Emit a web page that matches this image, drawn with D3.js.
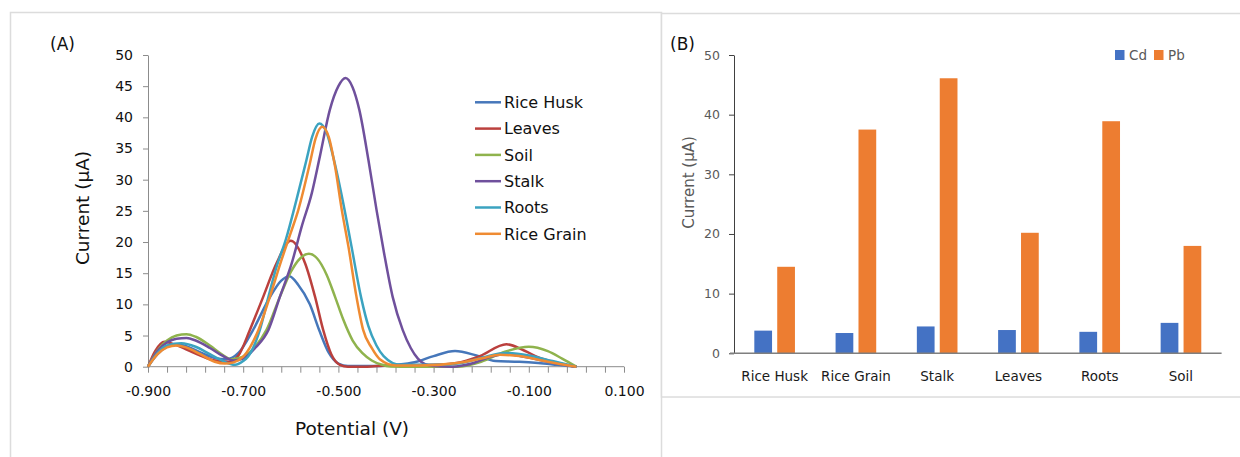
<!DOCTYPE html>
<html lang="en">
<head>
<meta charset="utf-8">
<title>Voltammograms and peak currents</title>
<script src="https://cdn.jsdelivr.net/npm/d3@7"></script>
<style>
    body { margin: 0; padding: 0; background: #fff; }
    svg text { font-family: "DejaVu Sans", sans-serif; }
    .axA path, .axA line { stroke: #8c8c8c; }
    .axA text { fill: #111; font-size: 14px; }
    .axB text { fill: #595959; font-size: 12.5px; }
</style>
</head>
<body>
<svg id="chart" width="1240" height="457"></svg>
<script>
// ---- panel A : voltammograms, [potential V, current uA]
var riceHusk = [[-0.9,0],[-0.88,2.0],[-0.86,3.2],[-0.84,3.6],[-0.82,3.3],[-0.79,2.3],[-0.76,1.4],[-0.735,1.2],[-0.71,2.2],
    [-0.68,5.8],[-0.645,11.0],[-0.62,13.8],[-0.603,14.5],[-0.585,13.2],[-0.56,10.0],[-0.54,5.8],[-0.52,2.2],[-0.50,0.5],
    [-0.48,0.1],[-0.42,0.1],[-0.38,0.3],[-0.34,0.7],[-0.30,1.7],[-0.255,2.5],[-0.21,1.8],[-0.17,0.9],[-0.12,0.8],
    [-0.08,0.6],[-0.04,0.3],[0,0]];
var leaves = [[-0.9,0],[-0.885,2.5],[-0.865,4.0],[-0.845,3.6],[-0.82,2.8],[-0.79,1.8],[-0.76,1.0],[-0.73,0.8],[-0.71,1.8],
    [-0.686,5.9],[-0.658,11.2],[-0.63,16.6],[-0.60,20.2],[-0.57,16.6],[-0.549,11.2],[-0.532,5.9],[-0.515,2.0],[-0.497,0.3],
    [-0.48,0],[-0.44,0],[-0.40,0.2],[-0.30,0.3],[-0.252,0.6],[-0.203,1.7],[-0.147,3.6],[-0.11,2.6],[-0.077,1.4],
    [-0.04,0.6],[0,0]];
var soil = [[-0.9,0],[-0.88,2.6],[-0.86,4.2],[-0.84,5.0],[-0.819,5.2],[-0.80,4.8],[-0.77,3.4],[-0.745,2.0],[-0.725,1.2],
    [-0.70,1.6],[-0.675,3.2],[-0.651,5.9],[-0.623,11.2],[-0.60,15.2],[-0.58,17.4],[-0.562,18.1],[-0.545,17.4],[-0.525,14.8],
    [-0.507,11.2],[-0.49,7.6],[-0.47,4.2],[-0.45,2.2],[-0.43,1.0],[-0.41,0.35],[-0.39,0.05],[-0.35,0],[-0.25,0],[-0.20,0.8],
    [-0.15,2.4],[-0.10,3.2],[-0.06,2.5],[-0.03,1.3],[0,0]];
var stalk = [[-0.9,0],[-0.88,2.5],[-0.86,3.9],[-0.84,4.5],[-0.819,4.6],[-0.80,4.2],[-0.77,3.0],[-0.745,1.8],[-0.72,1.0],
    [-0.70,1.3],[-0.675,3.0],[-0.647,5.9],[-0.623,11.2],[-0.598,16.6],[-0.577,22.5],[-0.556,27.8],[-0.539,33.7],
    [-0.518,41.2],[-0.50,45.0],[-0.485,46.3],[-0.47,44.8],[-0.456,41.2],[-0.437,33.2],[-0.42,25.2],[-0.404,18.2],
    [-0.386,11.2],[-0.365,5.9],[-0.348,3.0],[-0.333,1.3],[-0.318,0.4],[-0.30,0.1],[-0.26,0],[-0.22,0.5],[-0.18,1.6],
    [-0.15,2.0],[-0.11,1.6],[-0.06,0.8],[0,0]];
var roots = [[-0.9,0],[-0.88,2.2],[-0.86,3.4],[-0.83,3.75],[-0.80,3.2],[-0.77,2.0],[-0.745,1.0],[-0.717,0.3],[-0.70,0.9],
    [-0.69,1.6],[-0.665,5.9],[-0.647,11.2],[-0.63,16.0],[-0.61,20.5],[-0.588,26.8],[-0.567,33.2],[-0.555,36.9],[-0.54,39.0],
    [-0.525,37.6],[-0.511,33.7],[-0.49,26.3],[-0.473,19.5],[-0.452,11.0],[-0.437,6.5],[-0.42,3.4],[-0.405,1.7],
    [-0.37,0.3],[-0.30,0.3],[-0.25,0.5],[-0.20,1.4],[-0.15,2.2],[-0.10,1.8],[-0.05,0.9],[0,0]];
var riceGrain = [[-0.9,0],[-0.88,2.0],[-0.86,3.1],[-0.84,3.4],[-0.82,3.1],[-0.79,2.0],[-0.76,0.8],[-0.738,0.5],[-0.72,0.7],
    [-0.70,1.6],[-0.668,5.9],[-0.644,11.2],[-0.62,17.0],[-0.60,21.5],[-0.584,25.2],[-0.56,32.6],[-0.548,36.6],[-0.534,38.5],
    [-0.52,36.8],[-0.507,32.1],[-0.493,25.2],[-0.479,19.3],[-0.462,11.2],[-0.448,5.9],[-0.43,3.0],[-0.413,1.2],[-0.38,0.2],
    [-0.33,0.2],[-0.25,0.6],[-0.20,1.3],[-0.16,1.9],[-0.12,1.7],[-0.06,0.8],[0,0]];

var seriesNames = ["Rice Husk", "Leaves", "Soil", "Stalk", "Roots", "Rice Grain"];
var seriesColors = ["#4677ba", "#bb403d", "#8fb34d", "#6f509c", "#3ba3c0", "#ef8b32"];
var seriesData = [riceHusk, leaves, soil, stalk, roots, riceGrain];
var yTicksA = [0, 5, 10, 15, 20, 25, 30, 35, 40, 45, 50];

// ---- panel B : peak currents
var samples = ["Rice Husk", "Rice Grain", "Stalk", "Leaves", "Roots", "Soil"];
var metals = ["Cd", "Pb"];
var cdValues = [3.8, 3.4, 4.5, 3.9, 3.6, 5.1];
var pbValues = [14.5, 37.5, 46.1, 20.2, 38.9, 18.0];
var metalColors = ["#4472c4", "#ed7d31"];
var yTicksB = [0, 10, 20, 30, 40, 50];

var svg = d3.select("#chart");

// panel frames
svg.append("rect").attr("x", 10.5).attr("y", 12.5).attr("width", 651).attr("height", 470)
    .attr("fill", "none").attr("stroke", "#dcdcdc").attr("stroke-width", 1.5);
svg.append("rect").attr("x", 661.5).attr("y", 13.5).attr("width", 600).attr("height", 383.5)
    .attr("fill", "#fff").attr("stroke", "#dcdcdc").attr("stroke-width", 1.5);

// ================= panel A =================
var xA = d3.scaleLinear().domain([-0.9, 0.1]).range([148, 624]);
var yA = d3.scaleLinear().domain([0, 50]).range([366.7, 55]);

var xTickVals = d3.range(26).map(function (i) { return -0.9 + i * 0.04; });
var gxA = svg.append("g").attr("class", "axA")
    .attr("transform", "translate(0," + yA(0) + ")")
    .call(d3.axisBottom(xA).tickValues(xTickVals).tickSize(6).tickSizeOuter(0).tickPadding(13)
        .tickFormat(function (d, i) { return i % 5 === 0 ? (Math.round(d * 1000) / 1000).toFixed(3) : ""; }));
gxA.select(".domain").attr("d", "M148,0H624");

var gyA = svg.append("g").attr("class", "axA")
    .attr("transform", "translate(" + xA(-0.9) + ",0)")
    .call(d3.axisLeft(yA).tickValues(yTicksA).tickSize(5).tickSizeOuter(0).tickPadding(10));

var line = d3.line()
    .x(function (d) { return xA(d[0]); })
    .y(function (d) { return yA(d[1]); })
    .curve(d3.curveMonotoneX);

svg.append("g").selectAll("path")
    .data(seriesData)
    .enter().append("path")
    .attr("d", line)
    .attr("fill", "none")
    .attr("stroke", function (d, i) { return seriesColors[i]; })
    .attr("stroke-width", 2.5)
    .attr("stroke-linejoin", "round");

var legA = svg.append("g").selectAll("g")
    .data(seriesNames)
    .enter().append("g")
    .attr("transform", function (d, i) { return "translate(475," + (102.3 + i * 26.3) + ")"; });
legA.append("line").attr("x1", 0).attr("x2", 26).attr("y1", 0).attr("y2", 0)
    .attr("stroke", function (d, i) { return seriesColors[i]; }).attr("stroke-width", 2.5);
legA.append("text").attr("x", 29).attr("dy", "0.36em")
    .style("font-size", "16px").attr("fill", "#111").text(function (d) { return d; });

svg.append("text").attr("x", 50).attr("y", 50).style("font-size", "17px").attr("fill", "#111").text("(A)");
svg.append("text").attr("x", 352).attr("y", 435).attr("text-anchor", "middle")
    .style("font-size", "18.5px").attr("fill", "#111").text("Potential (V)");
svg.append("text").attr("transform", "translate(89,208) rotate(-90)").attr("text-anchor", "middle")
    .style("font-size", "18.5px").attr("fill", "#111").text("Current (µA)");

// ================= panel B =================
var x0 = d3.scaleBand().domain(samples).range([734, 1221.6]).paddingInner(0.5).paddingOuter(0.25);
var x1 = d3.scaleBand().domain(metals).range([0, x0.bandwidth()]).paddingInner(0.226);
var yB = d3.scaleLinear().domain([0, 50]).range([353.3, 55]);

var gyB = svg.append("g").attr("class", "axB")
    .attr("transform", "translate(734,0)")
    .call(d3.axisLeft(yB).tickValues(yTicksB).tickSize(5).tickSizeOuter(0).tickPadding(9));
gyB.selectAll("path, line").attr("stroke", "#404040");

var groups = svg.append("g").selectAll("g")
    .data(samples)
    .enter().append("g")
    .attr("transform", function (d) { return "translate(" + x0(d) + ",0)"; });
groups.selectAll("rect")
    .data(function (d, i) { return [cdValues[i], pbValues[i]]; })
    .enter().append("rect")
    .attr("x", function (d, j) { return x1(metals[j]); })
    .attr("y", function (d) { return yB(d); })
    .attr("width", x1.bandwidth())
    .attr("height", function (d) { return yB(0) - yB(d); })
    .attr("fill", function (d, j) { return metalColors[j]; });

svg.append("line").attr("x1", 730).attr("x2", 1221.6).attr("y1", yB(0)).attr("y2", yB(0))
    .attr("stroke", "#7f7f7f").attr("stroke-width", 1.5);

svg.append("g").selectAll("text")
    .data(samples)
    .enter().append("text")
    .attr("x", function (d) { return x0(d) + x0.bandwidth() / 2; })
    .attr("y", 380.7)
    .attr("text-anchor", "middle")
    .style("font-size", "13.5px").attr("fill", "#1a1a1a")
    .text(function (d) { return d; });

svg.append("text").attr("transform", "translate(694,182.5) rotate(-90)").attr("text-anchor", "middle")
    .style("font-size", "15px").attr("fill", "#595959").text("Current (µA)");
svg.append("text").attr("x", 670).attr("y", 50).style("font-size", "17px").attr("fill", "#111").text("(B)");

var legB = svg.append("g").selectAll("g")
    .data(metals)
    .enter().append("g")
    .attr("transform", function (d, i) { return "translate(" + (1115 + i * 39) + ",50)"; });
legB.append("rect").attr("width", 9.5).attr("height", 10)
    .attr("fill", function (d, i) { return metalColors[i]; });
legB.append("text").attr("x", 14).attr("y", 10)
    .style("font-size", "13.5px").attr("fill", "#595959").text(function (d) { return d; });
</script>
</body>
</html>
